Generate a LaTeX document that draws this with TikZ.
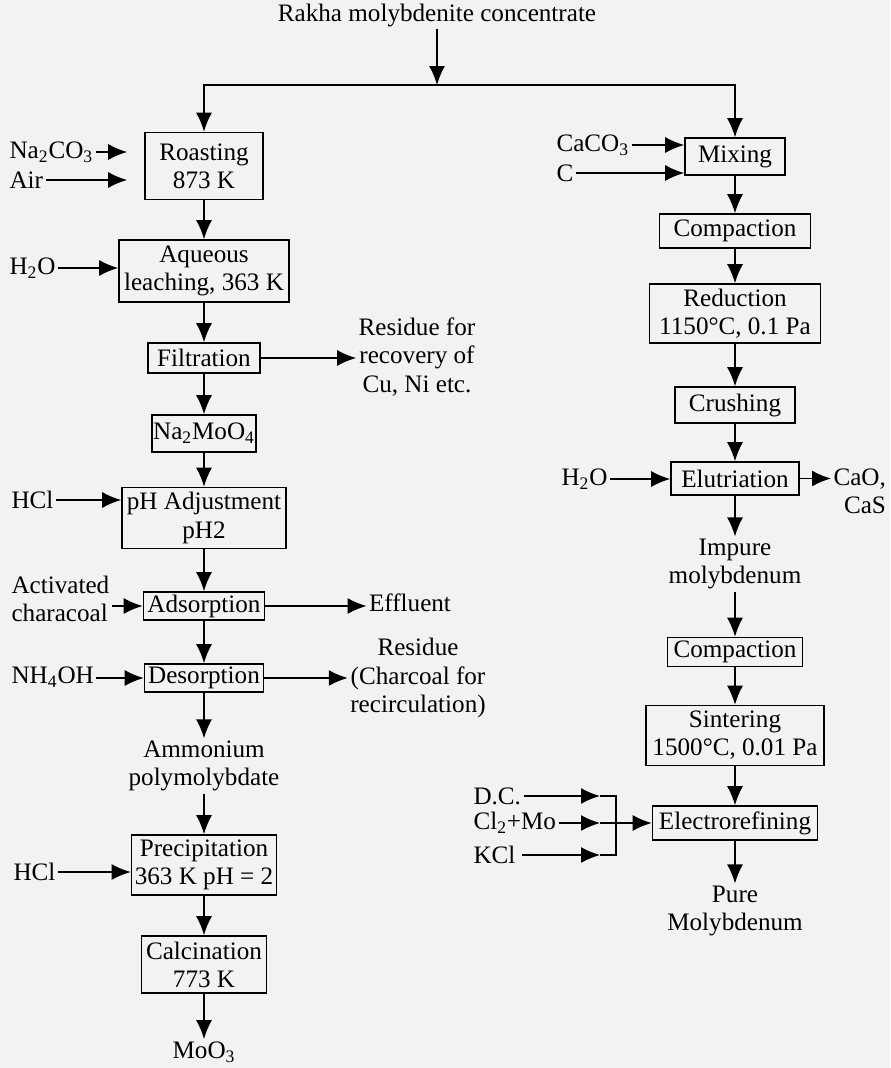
\documentclass[tikz,border=0pt]{standalone}
\usepackage{fontspec}
\setmainfont{Liberation Serif}
\usetikzlibrary{positioning,arrows.meta,calc}

\begin{document}
\begin{tikzpicture}[every node/.style={on grid, font=\fontsize{14.3pt}{16pt}\selectfont},
		proc/.style={draw, line width=0.9pt, inner sep=0pt, align=center},
		txt/.style={inner sep=1pt, align=center},
		line width=0.9pt,
		>={Latex[length=0.38cm,width=0.32cm]}]
	\fill[black!5] (0,0) rectangle (17.8,-21.36);
	\useasboundingbox (0,0) rectangle (17.8,-21.36);

	\node[txt] (title) at (8.74,-0.3) {Rakha molybdenite concentrate};
	\coordinate (bar) at (8.74,-1.7);

	% left route
	\node[proc, minimum width=2.36cm, minimum height=1.34cm] (roast) at (4.08,-3.32) {Roasting\\873 K};
	\node[proc, below=2.1cm of roast, minimum width=3.4cm, minimum height=1.24cm] (aq) {Aqueous\\leaching, 363 K};
	\node[proc, below=1.74cm of aq, minimum width=2.24cm, minimum height=0.6cm] (filt) {Filtration};
	\node[proc, below=1.51cm of filt, minimum width=2.08cm, minimum height=0.74cm] (namo) {Na\textsubscript{2}MoO\textsubscript{4}};
	\node[proc, below=1.69cm of namo, minimum width=3.28cm, minimum height=1.22cm] (ph) {pH Adjustment\\pH2};
	\node[proc, below=1.76cm of ph, minimum width=2.42cm, minimum height=0.56cm] (ads) {Adsorption};
	\node[proc, below=1.44cm of ads, minimum width=2.38cm, minimum height=0.56cm] (des) {Desorption};
	\node[txt, below=1.76cm of des] (amm) {Ammonium\\polymolybdate};
	\node[proc, below=1.98cm of amm, minimum width=2.9cm, minimum height=1.2cm] (prec) {Precipitation\\363 K pH = 2};
	\node[proc, below=1.99cm of prec, minimum width=2.5cm, minimum height=1.14cm] (calc) {Calcination\\773 K};
	\node[txt, below=1.75cm of calc] (moo) {MoO\textsubscript{3}};

	\node[txt, anchor=west] (naco) at (0.14,-3.04) {Na\textsubscript{2}CO\textsubscript{3}};
	\node[txt, anchor=west] (air) at (0.14,-3.6) {Air};
	\node[txt, anchor=west] (wa) at (0.14,-5.36) {H\textsubscript{2}O};
	\node[txt, anchor=west] (hcla) at (0.18,-10.0) {HCl};
	\node[txt, anchor=west, align=left] (act) at (0.18,-11.97) {Activated\\characoal};
	\node[txt, anchor=west] (nhoh) at (0.18,-13.54) {NH\textsubscript{4}OH};
	\node[txt, anchor=west] (hclb) at (0.22,-17.44) {HCl};

	\node[txt] (resa) at (8.34,-7.14) {Residue for\\recovery of\\Cu, Ni etc.};
	\node[txt] (eff) at (8.2,-12.06) {Effluent};
	\node[txt] (resb) at (8.36,-13.56) {Residue\\(Charcoal for\\recirculation)};

	% right route
	\node[proc, minimum width=2.0cm, minimum height=0.74cm] (mix) at (14.7,-3.13) {Mixing};
	\node[proc, below=1.49cm of mix, minimum width=3.02cm, minimum height=0.68cm] (compa) {Compaction};
	\node[proc, below=1.65cm of compa, minimum width=3.42cm, minimum height=1.18cm] (red) {Reduction\\1150°C, 0.1 Pa};
	\node[proc, below=1.83cm of red, minimum width=2.4cm, minimum height=0.72cm] (crush) {Crushing};
	\node[proc, below=1.47cm of crush, minimum width=2.56cm, minimum height=0.66cm] (elut) {Elutriation};
	\node[txt, below=1.71cm of elut] (impure) {Impure\\molybdenum};
	\node[proc, below=1.76cm of impure, minimum width=2.7cm, minimum height=0.58cm] (compb) {Compaction};
	\node[proc, below=1.67cm of compb, minimum width=3.56cm, minimum height=1.2cm] (sint) {Sintering\\1500°C, 0.01 Pa};
	\node[proc, below=1.75cm of sint, minimum width=3.3cm, minimum height=0.68cm] (elec) {Electrorefining};
	\node[txt, below=1.76cm of elec] (pure) {Pure\\Molybdenum};

	\node[txt, anchor=west] (caco) at (11.08,-2.9) {CaCO\textsubscript{3}};
	\node[txt, anchor=west] (carb) at (11.08,-3.46) {C};
	\node[txt, anchor=west] (wb) at (11.18,-9.58) {H\textsubscript{2}O};
	\node[txt, anchor=west, align=right] (cao) at (16.62,-9.82) {CaO,\\CaS};
	\node[txt, anchor=west] (dc) at (9.42,-15.92) {D.C.};
	\node[txt, anchor=west] (clmo) at (9.42,-16.46) {Cl\textsubscript{2}+Mo};
	\node[txt, anchor=west] (kcl) at (9.42,-17.1) {KCl\,};
	\coordinate (tipx) at (12.0,0);
	\coordinate (jx) at (12.32,0);

	\draw[->] (title) -- (bar);
	\draw[->] (bar) -| (roast.north);
	\draw[->] (bar) -| (mix.north);

	\draw[->] (roast) -- (aq);
	\draw[->] (aq) -- (filt);
	\draw[->] (filt) -- (namo);
	\draw[->] (namo) -- (ph);
	\draw[->] (ph) -- (ads);
	\draw[->] (ads) -- (des);
	\draw[->] (des) -- (amm);
	\draw[->] (amm) -- (prec);
	\draw[->] (prec) -- (calc);
	\draw[->] (calc) -- (moo);

	\draw[->, shorten >=0.34cm] (naco.east) -- (roast.west |- naco);
	\draw[->, shorten >=0.34cm] (air.east) -- (roast.west |- air);
	\draw[->] (wa.east) -- (aq.west |- wa);
	\draw[->] (hcla.east) -- (ph.west |- hcla);
	\draw[->] (act.east |- ads) -- (ads.west);
	\draw[->] (nhoh.east |- des) -- (des.west);
	\draw[->] (hclb.east) -- (prec.west |- hclb);
	\draw[->] (filt.east) -- (resa.west |- filt);
	\draw[->] (ads.east) -- (eff.west |- ads);
	\draw[->] (des.east) -- (resb.west |- des);

	\draw[->] (mix) -- (compa);
	\draw[->] (compa) -- (red);
	\draw[->] (red) -- (crush);
	\draw[->] (crush) -- (elut);
	\draw[->] (elut) -- (impure);
	\draw[->] (impure) -- (compb);
	\draw[->] (compb) -- (sint);
	\draw[->] (sint) -- (elec);
	\draw[->] (elec) -- (pure);

	\draw[->] (caco.east) -- (mix.west |- caco);
	\draw[->] (carb.east) -- (mix.west |- carb);
	\draw[->] (wb.east) -- (elut.west |- wb);
	\draw[->] (elut.east) -- (cao.west |- elut);

	\draw[->] (dc.east) -- (dc.east -| tipx);
	\draw[->] (clmo.east) -- (clmo.east -| tipx);
	\draw[->] (kcl.east) -- (kcl.east -| tipx);
	\draw (dc.east -| tipx) -- (dc.east -| jx) -- (kcl.east -| jx) -- (kcl.east -| tipx);
	\draw[->] (clmo.east -| tipx) -- (elec.west |- clmo);
\end{tikzpicture}
\end{document}
